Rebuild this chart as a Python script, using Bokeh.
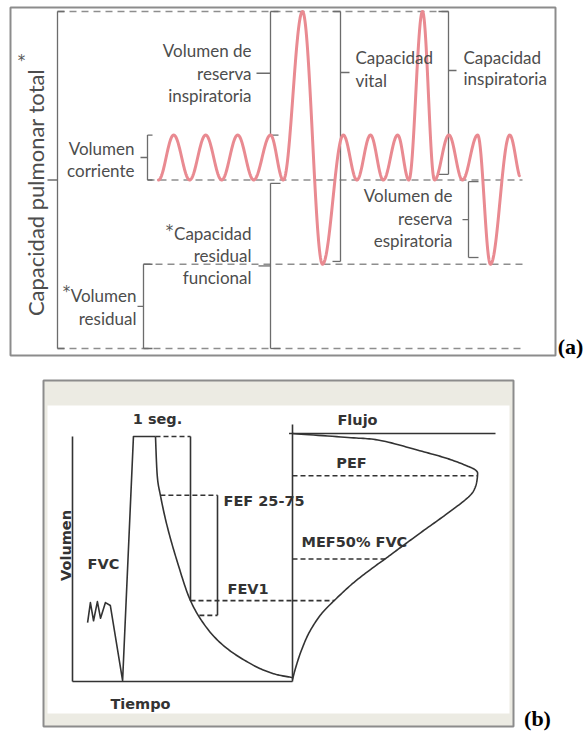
import numpy as np
from bokeh.plotting import figure
from bokeh.layouts import column
from bokeh.models import Range1d
from bokeh.core.properties import value
from bokeh.embed import file_html
from bokeh.resources import INLINE

# ---------------- Panel (a): lung volumes and capacities (litres) ----------------
TLC = 6.0      # capacidad pulmonar total
VT_TOP = 3.8   # end of a tidal inspiration
FRC = 3.0      # capacidad residual funcional
RV = 1.5       # volumen residual

# turning points of the breathing trace (time in s, volume in L)
breath_t = [0.0, 1.9, 3.9, 5.9, 7.9, 9.9, 11.9, 14.0, 15.6, 18.0, 20.5, 23.1, 24.8,
            26.5, 28.1, 29.9, 31.3, 33.0, 34.5, 36.3, 38.0, 39.9, 41.5, 43.9, 45.4]
breath_v = [FRC, VT_TOP, FRC, VT_TOP, FRC, VT_TOP, FRC, VT_TOP, FRC, TLC, RV, VT_TOP, FRC,
            VT_TOP, FRC, VT_TOP, FRC, TLC, FRC, VT_TOP, FRC, VT_TOP, RV, VT_TOP, FRC]
trace_end = 45.1

# ---------------- Panel (b): spirometry ----------------
FVC = 5.0
FEV1 = 3.35
PEF = 8.0
PEF_VOL = 4.2
FEF25_VOL = 3.8
FEF75_VOL = 1.35
MEF50_VOL = 2.5

# volume-time curve (time s, volume L); forced expiration starts at index 9
spiro_t = [-1.94, -1.86, -1.77, -1.66, -1.57, -1.43, -1.29, -0.94, -0.63, 0.0, 0.05, 0.14,
           0.33, 0.62, 1.0, 1.48, 2.05, 2.80, 3.37, 3.91]
spiro_v = [1.20, 1.61, 1.24, 1.63, 1.29, 1.61, 1.55, 0.02, 5.0, 5.0, 4.2, 3.8,
           3.18, 2.45, 1.65, 1.08, 0.67, 0.33, 0.16, 0.08]
FORCED_START = 9

# flow-volume loop (flow L/s, volume L)
fv_flow = [0.0, 2.4, 3.8, 5.5, 6.7, 7.6, 7.95, 8.0, 7.9, 7.6, 6.7, 5.55, 4.6, 4.0,
           3.5, 2.65, 1.8, 1.2, 0.7, 0.35, 0.13, 0.0]
fv_vol = [5.06, 4.98, 4.92, 4.71, 4.55, 4.39, 4.3, 4.2, 3.96, 3.76, 3.43, 3.04, 2.71, 2.5,
          2.33, 2.02, 1.65, 1.35, 0.98, 0.59, 0.27, 0.04]

W = 586
HA, HB = 365, 370


def catmull_rom(xs, ys, n=14):
    """Smooth drawing path through the given points (uniform Catmull-Rom)."""
    P = np.column_stack([xs, ys]).astype(float)
    P = np.vstack([P[0], P, P[-1]])
    out = []
    for i in range(1, len(P) - 2):
        p0, p1, p2, p3 = P[i - 1], P[i], P[i + 1], P[i + 2]
        for s in np.linspace(0, 1, n, endpoint=False):
            out.append(0.5 * (2 * p1 + (-p0 + p2) * s + (2 * p0 - 5 * p1 + 4 * p2 - p3) * s ** 2
                              + (-p0 + 3 * p1 - 3 * p2 + p3) * s ** 3))
    out.append(P[-2])
    out = np.array(out)
    return out[:, 0], out[:, 1]


# ---- scales of panel (a) ----
A_ZERO_ROW, A_PX_PER_L = 348.0, 56.17
A_T0_COL, A_PX_PER_S = 158.0, 8.0


def ax(col):
    return (col - A_T0_COL) / A_PX_PER_S


def ay(row):
    return (A_ZERO_ROW - row) / A_PX_PER_L


pa = figure(width=W, height=HA, x_range=Range1d(ax(0), ax(W)), y_range=Range1d(ay(HA), ay(0)),
            output_backend="svg", toolbar_location=None, min_border=0,
            x_axis_type=None, y_axis_type=None, outline_line_color=None,
            background_fill_color="white", border_fill_color="white")

# frame
pa.quad(left=ax(10), right=ax(555), top=ay(7), bottom=ay(355), fill_color=None,
        line_color="#8c8c8c", line_width=2)

# reference levels
DASH_A = dict(line_color="#8e8e8e", line_width=1.3, line_dash="7 5")
pa.line([ax(57), ax(448)], [TLC, TLC], **DASH_A)
pa.line([ax(147), ax(522)], [FRC, FRC], **DASH_A)
pa.line([ax(143), ax(522)], [RV, RV], **DASH_A)
pa.line([ax(57), ax(524)], [0, 0], **DASH_A)


def bracket(col, top, bot, serif, tick_row=None, tick_len=0):
    x = ax(col)
    xs = [[x, x], [x, ax(col + serif)], [x, ax(col + serif)]]
    ys = [[top, bot], [top, top], [bot, bot]]
    yt = (top + bot) / 2 if tick_row is None else ay(tick_row)
    xs.append([x, ax(col + tick_len)])
    ys.append([yt, yt])
    return xs, ys


bxs, bys = [], []
for args in [
    (57, TLC, 0.0, 7, None, -10),                 # capacidad pulmonar total
    (147, VT_TOP, FRC, 5, None, -7),              # volumen corriente
    (143, RV, 0.0, 9, None, -6),                  # volumen residual
    (270, TLC, VT_TOP, 8, None, -14),             # volumen de reserva inspiratoria
    (270, FRC - 0.06, 0.0, 10, None, -12),        # capacidad residual funcional
    (340, TLC, RV + 0.05, -8, 72, 9),             # capacidad vital
    (448, TLC, FRC + 0.1, -10, 70, 8),            # capacidad inspiratoria
    (468, FRC - 0.03, RV + 0.12, 10, None, -6),   # volumen de reserva espiratoria
]:
    xs, ys = bracket(*args)
    bxs += xs
    bys += ys
pa.multi_line(bxs, bys, line_color="#6c6c6c", line_width=1.3)


def half_cosine_path(ts, vs, n=40):
    xs, ys = [], []
    for t0, v0, t1, v1 in zip(ts[:-1], vs[:-1], ts[1:], vs[1:]):
        s = np.linspace(0, 1, n, endpoint=False)
        xs.extend(t0 + (t1 - t0) * s)
        ys.extend(v0 + (v1 - v0) * (1 - np.cos(np.pi * s)) / 2)
    xs.append(ts[-1])
    ys.append(vs[-1])
    return np.array(xs), np.array(ys)


tx, tv = half_cosine_path(breath_t, breath_v)
keep = tx <= trace_end
pa.line(tx[keep], tv[keep], line_color="#e98a91", line_width=3,
        line_cap="round", line_join="round")

FONT_A = value("Lato")
TXT_A = dict(text_font=FONT_A, text_font_size="17px", text_color="#4d4d4d",
             text_baseline="middle")


def label_block(p, col, rows, lines, align):
    p.text(x=[ax(col)] * len(lines), y=[ay(r) for r in rows], text=lines,
           text_align=align, **TXT_A)


label_block(pa, 251, [50, 73, 95], ["Volumen de", "reserva", "inspiratoria"], "right")
label_block(pa, 134, [148, 170], ["Volumen", "corriente"], "right")
label_block(pa, 251, [233, 255, 277], ["Capacidad", "residual", "funcional"], "right")
label_block(pa, 136, [295, 318], ["Volumen", "residual"], "right")
label_block(pa, 355, [57, 80], ["Capacidad", "vital"], "left")
label_block(pa, 463, [57, 78], ["Capacidad", "inspiratoria"], "left")
label_block(pa, 452, [195, 218, 240], ["Volumen de", "reserva", "espiratoria"], "right")

STAR = dict(text_font=value("DejaVu Sans"), text_font_size="15px", text_color="#555555",
            text_align="center", text_baseline="middle")
pa.text(x=[ax(169), ax(66), ax(21)], y=[ay(230), ay(291), ay(60)], text=["*", "*", "*"], **STAR)

pa.text(x=[ax(35)], y=[ay(192)], text=["Capacidad pulmonar total"], angle=np.pi / 2,
        text_font=FONT_A, text_font_size="22px", text_color="#4d4d4d",
        text_align="center", text_baseline="middle")

pa.text(x=[ax(570)], y=[ay(346)], text=["(a)"], text_font=value("Liberation Serif"),
        text_font_style="bold", text_font_size="22px", text_color="black",
        text_align="center", text_baseline="middle")

# ---- scales of panel (b) ----
B_TOP = 365.0                     # row of the panel's top edge in the page
B_ZERO_ROW, B_PX_PER_L = 681.0, 49.0
B_T0_COL, B_PX_PER_S = 155.0, 35.0
B_F0_COL, B_PX_PER_FLOW = 292.0, 23.125


def bx(col):
    return (col - B_T0_COL) / B_PX_PER_S


def bf(col):
    return (col - B_F0_COL) / B_PX_PER_FLOW


def by(row):
    return (B_ZERO_ROW - row) / B_PX_PER_L


pb = figure(width=W, height=HB, x_range=Range1d(bx(0), bx(W)),
            y_range=Range1d(by(B_TOP + HB), by(B_TOP)),
            output_backend="svg", toolbar_location=None, min_border=0,
            x_axis_type=None, y_axis_type=None, outline_line_color=None,
            background_fill_color="white", border_fill_color="white")
pb.extra_x_ranges = {"flow": Range1d(bf(0), bf(W))}

# window frame
pb.quad(left=bx(43), right=bx(513), top=by(380), bottom=by(726),
        fill_color="#ecebe3", line_color="#8c8c8c", line_width=2)
pb.quad(left=bx(47), right=bx(509), top=by(405), bottom=by(713),
        fill_color="white", line_color=None)

INK = "#333333"
SOLID = dict(line_color=INK, line_width=1.6)
DASH_B = dict(line_color=INK, line_width=1.6, line_dash="5 3")

# volume-time axes
t_axis = bx(72)
t_end = bx(B_F0_COL)
pb.line([t_axis, t_axis], [0, FVC], **SOLID)
pb.line([t_axis, t_end], [0, 0], **SOLID)

# flow axes
pb.line([0, 0], [0, by(424)], x_range_name="flow", **SOLID)
pb.line([-0.15, bf(495)], [by(433), by(433)], x_range_name="flow", **SOLID)

# volume-time curve: tidal breaths and inspiration as straight strokes, forced expiration smooth
pb.line(spiro_t[:FORCED_START + 1], spiro_v[:FORCED_START + 1], line_join="round", **SOLID)
ex_x, ex_y = catmull_rom(spiro_t[FORCED_START:], spiro_v[FORCED_START:])
pb.line(ex_x, ex_y, line_join="round", **SOLID)

# flow-volume curve
fvx, fvy = catmull_rom(fv_flow, fv_vol)
pb.line(fvx, fvy, x_range_name="flow", line_join="round", **SOLID)

# helpers reading the curves at a given volume
exp_t = np.array(spiro_t[FORCED_START:])
exp_v = np.array(spiro_v[FORCED_START:])
pk = int(np.argmax(fv_flow))
desc_f = np.array(fv_flow[pk:])
desc_v = np.array(fv_vol[pk:])


def t_at(v):
    return float(np.interp(v, exp_v[::-1], exp_t[::-1]))


def f_at(v):
    return float(np.interp(v, desc_v[::-1], desc_f[::-1]))


fev1_vol = FVC - FEV1
# 1 second box
pb.line([0, 1], [FVC, FVC], **DASH_B)
pb.line([1, 1], [FVC, fev1_vol], **SOLID)
# FEV1 level, across both plots
pb.line([1, t_end], [fev1_vol, fev1_vol], **DASH_B)
pb.line([0, f_at(fev1_vol)], [fev1_vol, fev1_vol], x_range_name="flow", **DASH_B)
# FEF 25-75 bracket
fef_col = bx(217)
pb.line([t_at(FEF25_VOL), fef_col], [FEF25_VOL, FEF25_VOL], **DASH_B)
pb.line([fef_col, fef_col], [FEF25_VOL, FEF75_VOL], **SOLID)
pb.line([t_at(FEF75_VOL), fef_col], [FEF75_VOL, FEF75_VOL], **DASH_B)
# PEF and MEF50
pb.line([0, PEF], [PEF_VOL, PEF_VOL], x_range_name="flow", **DASH_B)
pb.line([0, f_at(MEF50_VOL)], [MEF50_VOL, MEF50_VOL], x_range_name="flow", **DASH_B)

TXT_B = dict(text_font=value("DejaVu Sans"), text_font_style="bold", text_font_size="14.5px",
             text_color=INK, text_baseline="middle")
pb.text(x=[bx(157)], y=[by(418)], text=["1 seg."], text_align="center", **TXT_B)
pb.text(x=[bx(223)], y=[by(500)], text=["FEF 25-75"], text_align="left", **TXT_B)
pb.text(x=[bx(227)], y=[by(588)], text=["FEV1"], text_align="left", **TXT_B)
pb.text(x=[bx(87)], y=[by(563)], text=["FVC"], text_align="left", **TXT_B)
pb.text(x=[bx(140)], y=[by(703)], text=["Tiempo"], text_align="center", **TXT_B)
pb.text(x=[bx(65)], y=[by(545)], text=["Volumen"], text_align="center", angle=np.pi / 2, **TXT_B)
pb.text(x=[bx(357)], y=[by(419)], text=["Flujo"], text_align="center", **TXT_B)
pb.text(x=[bx(351)], y=[by(462)], text=["PEF"], text_align="center", **TXT_B)
pb.text(x=[bx(301)], y=[by(541)], text=["MEF50% FVC"], text_align="left", **TXT_B)

pb.text(x=[bx(537)], y=[by(718)], text=["(b)"], text_font=value("Liberation Serif"),
        text_font_style="bold", text_font_size="22px", text_color="black",
        text_align="center", text_baseline="middle")

layout = column(pa, pb, spacing=0)
open("out.html", "w").write(file_html(layout, INLINE))
